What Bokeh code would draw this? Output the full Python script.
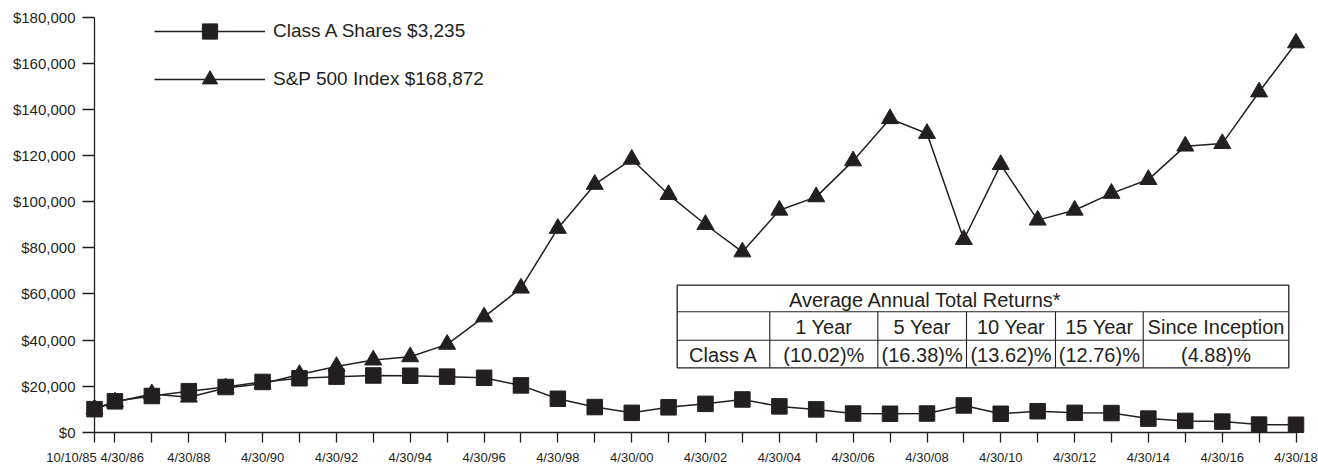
from datetime import datetime
from bokeh.plotting import figure
from bokeh.models import Range1d, FixedTicker, NumeralTickFormatter, Legend, LegendItem
from bokeh.embed import file_html
from bokeh.resources import INLINE
from bokeh.core.properties import value

# ---------------- data ----------------
dates = ["10/10/85", "4/30/86", "4/30/87", "4/30/88", "4/30/89", "4/30/90", "4/30/91",
         "4/30/92", "4/30/93", "4/30/94", "4/30/95", "4/30/96", "4/30/97", "4/30/98",
         "4/30/99", "4/30/00", "4/30/01", "4/30/02", "4/30/03", "4/30/04", "4/30/05",
         "4/30/06", "4/30/07", "4/30/08", "4/30/09", "4/30/10", "4/30/11", "4/30/12",
         "4/30/13", "4/30/14", "4/30/15", "4/30/16", "4/30/17", "4/30/18"]

class_a = [10000, 13400, 15700, 17800, 19600, 21800, 23400, 24100, 24600, 24500,
           24100, 23600, 20300, 14500, 10900, 8400, 10800, 12300, 14200, 11200,
           9900, 8100, 8000, 8100, 11600, 8000, 9100, 8400, 8300, 5900,
           4900, 4600, 3300, 3235]

sp500 = [10000, 13100, 16600, 15200, 19200, 21000, 25000, 28500, 31300, 32700,
         38100, 50000, 62500, 88400, 107500, 118400, 103100, 90100, 78200, 96300,
         102100, 117700, 136000, 129600, 83600, 116100, 92000, 96300, 103600, 109600,
         124100, 125200, 147600, 168872]

labelled_dates = ["4/30/88", "4/30/90", "4/30/92", "4/30/94", "4/30/96", "4/30/98",
                  "4/30/00", "4/30/02", "4/30/04", "4/30/06", "4/30/08", "4/30/10",
                  "4/30/12", "4/30/14", "4/30/16", "4/30/18"]
shifted_dates = ["10/10/85", "4/30/86"]

y_ticks = [0, 20000, 40000, 60000, 80000, 100000, 120000, 140000, 160000, 180000]

legend_labels = ["Class A Shares $3,235", "S&P 500 Index $168,872"]

table_title = "Average Annual Total Returns*"
table_header = ["", "1 Year", "5 Year", "10 Year", "15 Year", "Since Inception"]
table_row = ["Class A", "(10.02)%", "(16.38)%", "(13.62)%", "(12.76)%", "(4.88)%"]

# ---------------- geometry ----------------
def frac_year(s):
    d = datetime.strptime(s, "%m/%d/%y")
    return d.year + (d.timetuple().tm_yday - 1) / 365.25

xs = [frac_year(d) for d in dates]
W, H = 1318, 467
INK = "#231f20"

x_first, x_last = xs[0], xs[-1]
AX_L, AX_R = 94.0, 1295.5          # pixel columns of first / last date
Y0_PX, YMAX_PX = 431.7, 16.8       # pixel rows of $0 / $180,000
ppx = (AX_R - AX_L) / (x_last - x_first)
x0 = x_first - AX_L / ppx
x1 = x0 + W / ppx
ppd = (Y0_PX - YMAX_PX) / 180000
y_top = 180000 + YMAX_PX / ppd
y_bot = -(H - Y0_PX) / ppd

def PX(px):
    return x0 + px / ppx

def PY(py):
    return y_top - py / ppd

p = figure(width=W, height=H, output_backend="svg", toolbar_location=None,
           x_range=Range1d(x0, x1), y_range=Range1d(y_bot, y_top),
           min_border=0, min_border_left=0, min_border_right=0,
           min_border_top=0, min_border_bottom=0)
p.outline_line_color = None
p.xgrid.visible = False
p.ygrid.visible = False
p.background_fill_color = "white"

# ---------------- axes ----------------
xa = p.xaxis[0]
xa.fixed_location = 0
xa.bounds = (x_first, x_last)
xa.ticker = FixedTicker(ticks=xs)
xa.major_label_overrides = {x: (d if d in labelled_dates else "") for x, d in zip(xs, dates)}
xa.axis_line_color = INK
xa.axis_line_width = 1.3
xa.major_tick_line_color = INK
xa.major_tick_line_width = 1.3
xa.major_tick_out = 10
xa.major_tick_in = 0
xa.minor_tick_line_color = None
xa.major_label_standoff = 8
xa.major_label_text_font = "Liberation Sans"
xa.major_label_text_font_size = "13px"
xa.major_label_text_color = INK

ya = p.yaxis[0]
ya.fixed_location = x_first
ya.bounds = (0, 180000)
ya.ticker = FixedTicker(ticks=y_ticks)
ya.formatter = NumeralTickFormatter(format="$0,0")
ya.axis_line_color = INK
ya.axis_line_width = 1.3
ya.major_tick_line_color = INK
ya.major_tick_line_width = 1.3
ya.major_tick_out = 12
ya.major_tick_in = 0
ya.minor_tick_line_color = None
ya.major_label_standoff = 7
ya.major_label_text_font = "Liberation Sans"
ya.major_label_text_font_size = "15px"
ya.major_label_text_color = INK

# the two first date labels sit slightly apart from their ticks
p.text(x=[PX(71), PX(121.7)], y=[PY(449.5), PY(449.5)], text=shifted_dates,
       text_font=value("Liberation Sans"), text_font_size="13px",
       text_color=INK, text_align="center", text_baseline="top")

# ---------------- series ----------------
ls = p.line(xs, sp500, line_color=INK, line_width=1.5)
ts = p.scatter(xs, sp500, marker="triangle", size=17, fill_color=INK, line_color=INK)
la = p.line(xs, class_a, line_color=INK, line_width=1.5)
sa = p.scatter(xs, class_a, marker="square", size=15.5, fill_color=INK, line_color=INK)

legend = Legend(items=[LegendItem(label=legend_labels[0], renderers=[la, sa]),
                       LegendItem(label=legend_labels[1], renderers=[ls, ts])],
                location=(154, H - 97.7), orientation="vertical",
                glyph_width=111, glyph_height=38, label_standoff=8, spacing=10,
                padding=0, margin=0, background_fill_alpha=0, border_line_alpha=0,
                label_text_font="Liberation Sans", label_text_font_size="19px",
                label_text_color=INK)
p.add_layout(legend)

# ---------------- returns table ----------------
t_left, t_right = 676.7, 1288.3
t_rows = [284.7, 311.3, 339.7, 367.3]
t_cols = [676.7, 769.3, 877.3, 966.0, 1055.0, 1142.7, 1288.3]

p.quad(left=[PX(t_left)], right=[PX(t_right)], top=[PY(t_rows[0])], bottom=[PY(t_rows[3])],
       fill_color="white", line_color=INK, line_width=1.3)
seg_x0 = [PX(t_left), PX(t_left)] + [PX(c) for c in t_cols[1:-1]]
seg_x1 = [PX(t_right), PX(t_right)] + [PX(c) for c in t_cols[1:-1]]
seg_y0 = [PY(t_rows[1]), PY(t_rows[2])] + [PY(t_rows[1])] * 5
seg_y1 = [PY(t_rows[1]), PY(t_rows[2])] + [PY(t_rows[3])] * 5
p.segment(x0=seg_x0, y0=seg_y0, x1=seg_x1, y1=seg_y1, line_color=INK, line_width=1.1)

centers = [PX((a + b) / 2) for a, b in zip(t_cols[:-1], t_cols[1:])]
row_mid_h = PY((t_rows[1] + t_rows[2]) / 2 + 1)
row_mid_d = PY((t_rows[2] + t_rows[3]) / 2 + 1)
p.text(x=[PX(925)], y=[PY((t_rows[0] + t_rows[1]) / 2 + 1)], text=[table_title],
       text_font=value("Liberation Sans"), text_font_size="20px", text_color=INK,
       text_align="center", text_baseline="middle")
p.text(x=centers, y=[row_mid_h] * 6, text=table_header,
       text_font=value("Liberation Sans"), text_font_size="20px", text_color=INK,
       text_align="center", text_baseline="middle")
p.text(x=centers, y=[row_mid_d] * 6, text=table_row,
       text_font=value("Liberation Sans"), text_font_size="20px", text_color=INK,
       text_align="center", text_baseline="middle")

open("out.html", "w").write(file_html(p, INLINE))
